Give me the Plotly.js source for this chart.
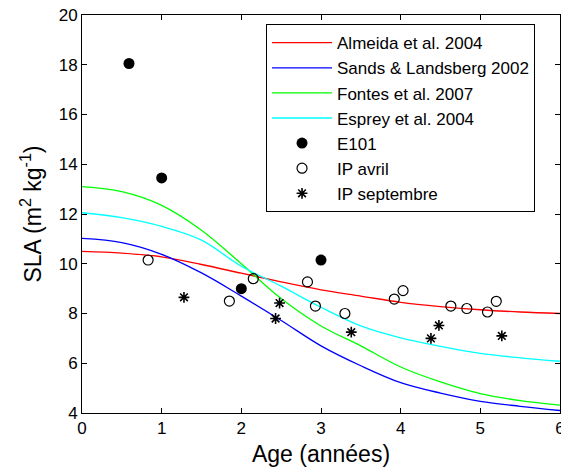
<!DOCTYPE html>
<html>
<head>
<meta charset="utf-8">
<script src="https://cdn.plot.ly/plotly-3.0.1.min.js"></script>
<style>html,body{margin:0;padding:0;background:#fff;}#chart{width:561px;height:472px;}</style>
</head>
<body>
<div id="chart"></div>
<script>
// Model curves
const ageCurve = [0, 0.5, 1, 1.5, 2, 2.5, 3, 3.5, 4, 4.5, 5, 5.5, 6];
const almeida = [10.5, 10.43, 10.28, 9.97, 9.62, 9.27, 8.95, 8.7, 8.45, 8.28, 8.15, 8.06, 8.0];
const sands   = [11.02, 10.85, 10.38, 9.63, 8.7, 7.72, 6.7, 5.9, 5.22, 4.8, 4.47, 4.27, 4.1];
const fontes  = [13.1, 12.9, 12.35, 11.35, 10.0, 8.6, 7.5, 6.7, 5.85, 5.25, 4.78, 4.5, 4.32];
const esprey  = [12.05, 11.85, 11.5, 10.95, 9.9, 9.1, 8.25, 7.5, 7.02, 6.68, 6.4, 6.22, 6.08];

// Observations
const e101Age = [0.59, 1.0, 2.0, 3.0];
const e101Sla = [18.05, 13.45, 9.0, 10.15];
const avrilAge = [0.83, 1.85, 2.15, 2.83, 2.93, 3.3, 3.92, 4.03, 4.63, 4.83, 5.09, 5.2];
const avrilSla = [10.15, 8.5, 9.4, 9.27, 8.3, 8.0, 8.58, 8.92, 8.3, 8.2, 8.06, 8.49];
const septAge = [1.28, 2.43, 2.48, 3.38, 4.38, 4.48, 5.27];
const septSla = [8.65, 7.8, 8.42, 7.25, 7.0, 7.52, 7.1];

const names = ['Almeida et al. 2004', 'Sands & Landsberg 2002', 'Fontes et al. 2007', 'Esprey et al. 2004', 'E101', 'IP avril', 'IP septembre'];
const xTicks = [0, 1, 2, 3, 4, 5, 6];
const yTicks = [4, 6, 8, 10, 12, 14, 16, 18, 20];

const FONT = 'Liberation Sans, Arial, sans-serif';
function curve(y, name, color) {
  return {x: ageCurve, y: y, name: name, type: 'scatter', mode: 'lines',
    line: {color: color, width: 1.3, shape: 'spline'}};
}
const traces = [
  curve(almeida, names[0], '#ff0000'),
  curve(sands, names[1], '#0000ff'),
  curve(fontes, names[2], '#00ff00'),
  curve(esprey, names[3], '#00ffff'),
  {x: e101Age, y: e101Sla, name: names[4], type: 'scatter', mode: 'markers',
    marker: {symbol: 'circle', size: 11, color: '#000'}},
  {x: avrilAge, y: avrilSla, name: names[5], type: 'scatter', mode: 'markers',
    marker: {symbol: 'circle-open', size: 10, color: '#000', line: {width: 1.2, color: '#000'}}},
  {x: septAge, y: septSla, name: names[6], type: 'scatter', mode: 'markers',
    marker: {symbol: 'asterisk-open', size: 9, color: '#000', line: {width: 1.6, color: '#000'}}}
];

const axisCommon = {
  showline: true, linecolor: '#000', linewidth: 1, mirror: 'ticks',
  ticks: 'inside', ticklen: 5, tickcolor: '#000', tickwidth: 1,
  showgrid: false, zeroline: false, ticklabeloverflow: 'allow',
  tickfont: {family: FONT, size: 17, color: '#000'}
};
const layout = {
  width: 561, height: 472,
  margin: {l: 82, r: 1, t: 15, b: 59},
  paper_bgcolor: '#fff', plot_bgcolor: '#fff',
  showlegend: true,
  xaxis: Object.assign({}, axisCommon, {
    range: [0, 6], tickvals: xTicks, ticktext: xTicks.map(String),
    title: {text: 'Age (années)', font: {family: FONT, size: 23, color: '#000'}, standoff: 8}
  }),
  yaxis: Object.assign({}, axisCommon, {
    range: [4, 20], tickvals: yTicks, ticktext: yTicks.map(String),
    title: {text: 'SLA (m<sup>2</sup> kg<sup>-1</sup>)', font: {family: FONT, size: 23, color: '#000'}, standoff: 10}
  }),
  legend: {
    x: 0.385, y: 0.977, xanchor: 'left', yanchor: 'top',
    bgcolor: '#fff', bordercolor: '#000', borderwidth: 1,
    font: {family: FONT, size: 17, color: '#000'},
    itemwidth: 60
  }
};
Plotly.newPlot('chart', traces, layout, {displayModeBar: false, staticPlot: true});
</script>
</body>
</html>
